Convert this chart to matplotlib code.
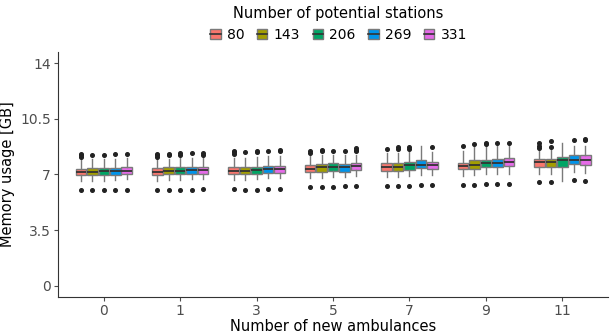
import numpy as np
import matplotlib.pyplot as plt
from matplotlib.patches import Rectangle
from matplotlib.lines import Line2D

# x groups: number of new ambulances
ambulances = ["0", "1", "3", "5", "7", "9", "11"]
stations = ["80", "143", "206", "269", "331"]
colors = ["#F8766D", "#A39E00", "#00A565", "#0094EA", "#E56BE8"]

# box stats per group (rows) and station count (columns)
q1 = [[6.95, 6.95, 6.95, 6.95, 7.00],
      [6.95, 7.00, 7.00, 7.05, 7.05],
      [7.00, 7.00, 7.05, 7.10, 7.10],
      [7.13, 7.18, 7.20, 7.18, 7.30],
      [7.20, 7.22, 7.30, 7.40, 7.35],
      [7.32, 7.37, 7.45, 7.50, 7.55],
      [7.50, 7.50, 7.45, 7.65, 7.60]]
med = [[7.15, 7.15, 7.20, 7.20, 7.25],
       [7.15, 7.20, 7.22, 7.30, 7.30],
       [7.20, 7.25, 7.30, 7.35, 7.35],
       [7.35, 7.45, 7.50, 7.45, 7.55],
       [7.45, 7.50, 7.58, 7.62, 7.58],
       [7.54, 7.62, 7.70, 7.75, 7.80],
       [7.77, 7.77, 7.90, 7.88, 7.90]]
q3 = [[7.35, 7.40, 7.40, 7.40, 7.50],
      [7.40, 7.45, 7.45, 7.50, 7.50],
      [7.45, 7.45, 7.50, 7.55, 7.55],
      [7.60, 7.66, 7.70, 7.65, 7.75],
      [7.70, 7.72, 7.80, 7.90, 7.80],
      [7.75, 7.88, 7.90, 8.00, 8.05],
      [7.98, 7.98, 8.13, 8.24, 8.20]]
wlo = [[6.60, 6.60, 6.60, 6.65, 6.70],
       [6.60, 6.65, 6.65, 6.70, 6.70],
       [6.65, 6.65, 6.70, 6.75, 6.75],
       [6.75, 6.80, 6.85, 6.85, 6.90],
       [6.85, 6.85, 6.90, 6.95, 6.95],
       [6.90, 6.95, 7.00, 7.05, 7.05],
       [7.05, 7.05, 6.60, 7.15, 7.10]]
whi = [[7.95, 8.00, 8.00, 8.00, 8.05],
       [8.00, 8.00, 8.05, 8.05, 8.10],
       [8.05, 8.05, 8.10, 8.15, 8.15],
       [8.15, 8.20, 8.20, 8.25, 8.25],
       [8.35, 8.35, 8.40, 8.80, 8.40],
       [8.45, 8.80, 8.85, 8.85, 8.90],
       [8.55, 8.55, 9.00, 8.80, 8.80]]
out_hi = [[[8.10, 8.20, 8.30], [8.25], [8.25], [8.30], [8.30]],
          [[8.10, 8.20, 8.30], [8.20, 8.30], [8.25, 8.35], [8.35], [8.25, 8.35]],
          [[8.30, 8.40, 8.45], [8.40], [8.40, 8.50], [8.50], [8.45, 8.55]],
          [[8.35, 8.45], [8.45, 8.55], [8.50], [8.50], [8.45, 8.55, 8.65]],
          [[8.60], [8.60, 8.75], [8.60, 8.70], [], [8.75]],
          [[8.80], [8.90], [8.90, 9.00], [8.95], [9.00]],
          [[8.65, 8.80, 9.00], [8.70, 9.10], [], [9.15], [9.15, 9.25]]]
out_lo = [[6.00, 6.00, 6.00, 6.05, 6.05],
          [6.00, 6.00, 6.05, 6.05, 6.10],
          [6.10, 6.05, 6.05, 6.10, 6.10],
          [6.20, 6.20, 6.20, 6.25, 6.30],
          [6.30, 6.30, 6.30, 6.35, 6.35],
          [6.35, 6.35, 6.40, 6.40, 6.40],
          [6.55, 6.55, None, 6.65, 6.60]]


class BoxKey:
    # legend key: small filled box with a median line
    def legend_artist(self, legend, orig_handle, fontsize, handlebox):
        x0, y0 = handlebox.xdescent, handlebox.ydescent
        w, h = handlebox.width, handlebox.height
        r = Rectangle((x0, y0), w, h, facecolor=orig_handle.get_color(),
                      edgecolor="#7a7a7a", lw=1.0, transform=handlebox.get_transform())
        ln = Line2D([x0, x0 + w], [y0 + h / 2, y0 + h / 2], color="#333333", lw=1.2,
                    transform=handlebox.get_transform())
        handlebox.add_artist(r)
        handlebox.add_artist(ln)
        return r


fig, ax = plt.subplots(figsize=(6.1, 3.33), dpi=100)
fig.subplots_adjust(left=0.095, right=0.997, bottom=0.108, top=0.844)

n = len(stations)
dodge = 0.75
bw = dodge / n
for g in range(len(ambulances)):
    for s in range(n):
        fl = list(out_hi[g][s])
        if out_lo[g][s] is not None:
            fl.append(out_lo[g][s])
        st = dict(q1=q1[g][s], med=med[g][s], q3=q3[g][s],
                  whislo=wlo[g][s], whishi=whi[g][s], fliers=fl)
        pos = g - dodge / 2 + bw * (s + 0.5)
        ax.bxp([st], positions=[pos], widths=bw * 0.92, patch_artist=True,
               showfliers=True,
               boxprops=dict(facecolor=colors[s], edgecolor="#7a7a7a", linewidth=1.0),
               medianprops=dict(color="#333333", linewidth=1.3),
               whiskerprops=dict(color="#7a7a7a", linewidth=1.0),
               capprops=dict(linewidth=0),
               flierprops=dict(marker="o", markersize=2.6, markerfacecolor="#222222",
                               markeredgecolor="#222222"))

ax.set_xticks(range(len(ambulances)))
ax.set_xticklabels(ambulances)
ax.set_xlim(-0.6, len(ambulances) - 0.4)
ax.set_ylim(-0.7, 14.7)
ax.set_yticks([0, 3.5, 7, 10.5, 14])
ax.set_yticklabels(["0", "3.5", "7", "10.5", "14"])
ax.tick_params(colors="#4d4d4d", labelsize=10, length=3, pad=2)
for sp in ["top", "right"]:
    ax.spines[sp].set_visible(False)
for sp in ["left", "bottom"]:
    ax.spines[sp].set_color("#333333")
ax.set_xlabel("Number of new ambulances", fontsize=10.5, labelpad=1)
ax.set_ylabel("Memory usage [GB]", fontsize=10.5, labelpad=4)

handles = [Line2D([], [], color=c) for c in colors]
leg = ax.legend(handles, stations, title="Number of potential stations", ncol=5,
                loc="lower center", bbox_to_anchor=(0.51, 1.0), frameon=False,
                fontsize=10, title_fontsize=10.5, handlelength=0.75, handleheight=0.75,
                handletextpad=0.45, columnspacing=0.9, borderpad=0.2,
                handler_map={Line2D: BoxKey()})

fig.savefig("out.png", dpi=100)
